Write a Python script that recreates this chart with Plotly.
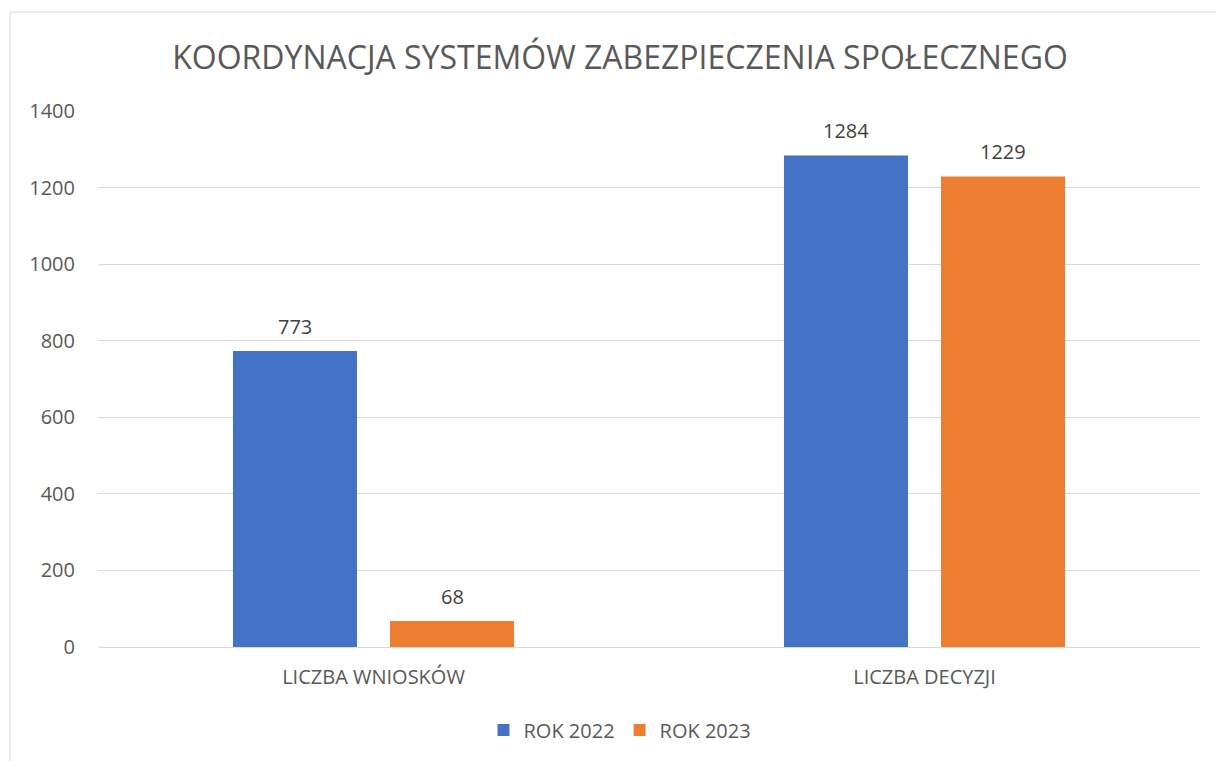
import plotly.graph_objects as go

categories = ["LICZBA WNIOSKÓW", "LICZBA DECYZJI"]
series_names = ["ROK 2022", "ROK 2023"]
values_2022 = [773, 1284]
values_2023 = [68, 1229]
colors = ["#4472C4", "#ED7D31"]
y_ticks = [0, 200, 400, 600, 800, 1000, 1200, 1400]

FONT = "Open Sans"
W, H = 1216, 761
L, R, T, B = 98, 16, 111, 114
pw, ph = W - L - R, H - T - B
BARGAP, GROUPGAP = 0.43, 0.21

fig = go.Figure()
for name, vals, col in zip(series_names, [values_2022, values_2023], colors):
    fig.add_trace(go.Bar(
        x=categories, y=vals, name=name, marker=dict(color=col, line=dict(width=0)),
        hoverinfo="x+y+name",
    ))

# data labels placed above each bar, using data coords and the group slot offset
cat_px = pw / len(categories)
slot_px = cat_px * (1 - BARGAP) / len(series_names)
annotations = []
for i, vals in enumerate([values_2022, values_2023]):
    offset = (i - (len(series_names) - 1) / 2) * slot_px
    for c, v in zip(categories, vals):
        annotations.append(dict(
            x=c, y=v, xref="x", yref="y", text=str(v), showarrow=False,
            xanchor="center", yanchor="bottom", xshift=offset, yshift=9,
            font=dict(family=FONT, size=20, color="#404040"),
        ))

fig.update_layout(
    width=W, height=H,
    margin=dict(l=L, r=R, t=T, b=B),
    paper_bgcolor="white", plot_bgcolor="white",
    barmode="group", bargap=BARGAP, bargroupgap=GROUPGAP,
    title=dict(text="KOORDYNACJA SYSTEMÓW ZABEZPIECZENIA SPOŁECZNEGO",
               x=(620 - L) / pw, xref="paper", xanchor="center",
               y=1 - 58 / H, yanchor="middle",
               font=dict(family=FONT, size=32, color="#595959")),
    font=dict(family=FONT, color="#595959"),
    xaxis=dict(showgrid=False, showline=True, linecolor="#d9d9d9", linewidth=1,
               ticks="", ticklabelstandoff=12,
               tickfont=dict(family=FONT, size=20, color="#595959")),
    yaxis=dict(range=[0, 1400], tickvals=y_ticks, showgrid=True, gridcolor="#d9d9d9",
               gridwidth=1, zeroline=False, showline=False, ticks="",
               ticklen=0, ticklabelstandoff=22,
               tickfont=dict(family=FONT, size=20, color="#595959")),
    legend=dict(orientation="h", x=(620 - L) / pw, xanchor="center",
                y=-(730 - (T + ph)) / ph, yanchor="middle",
                font=dict(family=FONT, size=20, color="#595959"),
                itemwidth=30, traceorder="normal"),
    annotations=annotations,
    shapes=[dict(type="rect", xref="paper", yref="paper",
                 x0=(10 - L) / pw, x1=(1230 - L) / pw,
                 y0=-(780 - (T + ph)) / ph, y1=(T + ph - 12) / ph,
                 line=dict(color="#d9d9d9", width=1), fillcolor="rgba(0,0,0,0)",
                 layer="below")],
)

fig.write_html("out.html", config={"displayModeBar": False},
               post_script="document.body.style.margin='0';")
